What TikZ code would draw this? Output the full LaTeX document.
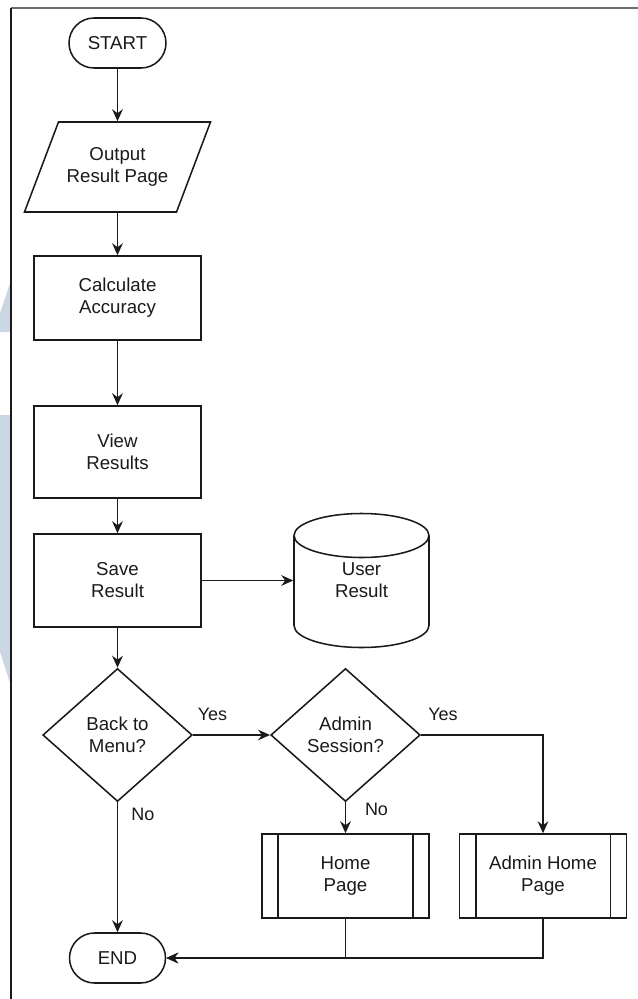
\documentclass[tikz,border=0pt]{standalone}
\usepackage{fontspec}
\setmainfont{Liberation Sans}
\usetikzlibrary{shapes.geometric,arrows.meta,calc}

\definecolor{ink}{HTML}{1A1A1A}
\definecolor{logoblue}{HTML}{CAD6E3}
\definecolor{framegray}{HTML}{6E6E6E}

\begin{document}
\begin{tikzpicture}[x=0.75pt,y=-0.75pt,
  base/.style={draw=ink, line width=1.15pt, text=ink, align=center, inner sep=0pt,
               font=\fontsize{14}{16.5}\selectfont},
  term/.style={base, rectangle, rounded corners=18.75pt,
               minimum width=72.75pt, minimum height=37.5pt},
  proc/.style={base, rectangle, minimum width=125.25pt},
  dec/.style={base, diamond, minimum width=112.1pt, minimum height=99.75pt},
  holder/.style={base, draw=none},
  outline/.style={draw=ink, line width=1.15pt},
  flow/.style={draw=ink, line width=1.15pt,
               -{Stealth[length=9pt,width=8pt,inset=3pt]}},
  lbl/.style={text=ink, inner sep=0pt, font=\fontsize{13.5}{16}\selectfont}]

\useasboundingbox (0,0) rectangle (638,999);

% logo bands on the left margin
\fill[logoblue] (11,280) -- (11,332) -- (0,332) -- (0,313) -- cycle;
\fill[logoblue] (0,415) -- (11,415) -- (11,686) -- (0,652) -- cycle;

% page frame
\draw[framegray, line width=1pt] (638,8) -- (11,8);
\draw[ink, line width=1pt] (11,8) -- (11,999);

% nodes
\node[term] (start) at (117.5,43) {START};

\node[holder, minimum width=88.5pt, minimum height=67.5pt] (io) at (117.5,167)
  {Output\\Result Page};
\draw[outline] ($(io)+(-59,-45)$) -- ($(io)+(93,-45)$) -- ($(io)+(59,45)$)
  -- ($(io)+(-93,45)$) -- cycle;

\node[proc, minimum height=63pt] (calc) at (117.5,298) {Calculate\\Accuracy};
\node[proc, minimum height=69pt] (view) at (117.5,452) {View\\Results};
\node[proc, minimum height=69.75pt] (save) at (117.5,580.5) {Save\\Result};

\node[holder, minimum width=101.25pt, minimum height=100.5pt] (db) at (361.5,580.5)
  {User\\Result};
\draw[outline] ($(db)+(0,-45)$) ellipse [x radius=50.625pt, y radius=16.5pt];
\draw[outline] ($(db)+(-67.5,-45)$) -- ($(db)+(-67.5,45)$)
  arc[start angle=180, end angle=360, x radius=50.625pt, y radius=16.5pt]
  -- ($(db)+(67.5,-45)$);

\node[dec] (d1) at (117.5,735) {Back to\\Menu?};
\node[dec] (d2) at (345.5,735) {Admin\\Session?};

\node[proc, minimum height=63pt] (home) at (345.5,876) {Home\\Page};
\node[proc, minimum height=63pt] (admin) at (543,876) {Admin Home\\Page};
\foreach \n in {home,admin} {
  \draw[outline] ($(\n.north west)+(17,0)$) -- ($(\n.south west)+(17,0)$);
  \draw[outline] ($(\n.north east)+(-17,0)$) -- ($(\n.south east)+(-17,0)$);
}

\node[term, minimum width=72pt] (end) at (117.5,958) {END};

% connectors
\draw[flow] (start) -- (io);
\draw[flow] (io) -- (calc);
\draw[flow] (calc) -- (view);
\draw[flow] (view) -- (save);
\draw[flow] (save) -- (db);
\draw[flow] (save) -- (d1);
\draw[flow] (d1) -- (d2);
\draw[flow] (d1) -- (end);
\draw[flow] (d2) -- (home);
\draw[flow] (d2.east) -| (admin.north);
\draw[flow] (home.south) |- (end.east);
\draw[flow] (admin.south) |- (end.east);

% branch labels
\node[lbl] (y1) at (212.5,714) {Yes};
\node[lbl] (y2) at (443,714) {Yes};
\node[lbl] (n1) at (143,814) {No};
\node[lbl] (n2) at (376.5,809) {No};

\end{tikzpicture}
\end{document}
